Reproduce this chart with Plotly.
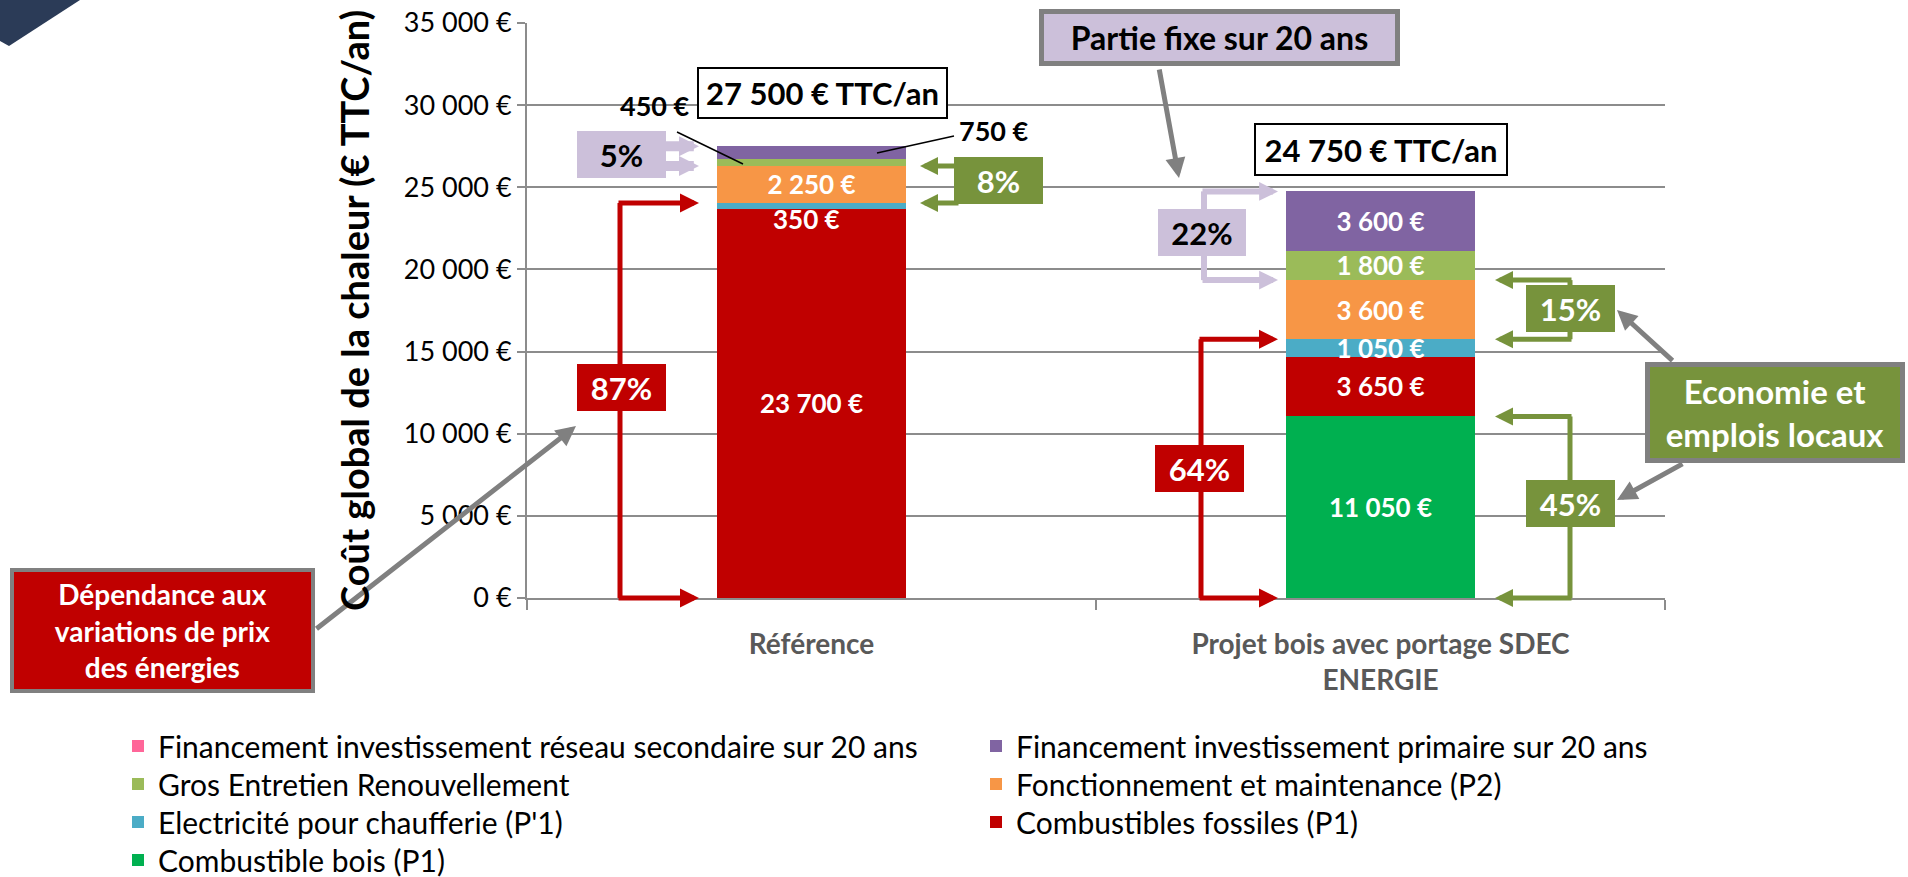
import plotly.graph_objects as go

# ---------------- data ----------------
categories = ["Référence", "Projet bois avec portage SDEC<br>ENERGIE"]

# stacking order bottom -> top
series_names = [
    "Combustible bois (P1)",
    "Combustibles fossiles (P1)",
    "Electricité pour chaufferie (P'1)",
    "Fonctionnement et maintenance (P2)",
    "Gros Entretien Renouvellement",
    "Financement investissement primaire sur 20 ans",
    "Financement investissement réseau secondaire sur 20 ans",
]
bois = [0, 11050]
fossiles = [23700, 3650]
electricite = [350, 1050]
fonctionnement = [2250, 3600]
gros_entretien = [450, 1800]
fin_primaire = [750, 3600]
fin_secondaire = [0, 0]
series_values = [bois, fossiles, electricite, fonctionnement, gros_entretien, fin_primaire, fin_secondaire]
series_colors = ["#00B050", "#C00000", "#4BACC6", "#F79646", "#9BBB59", "#8064A2", "#FF6699"]

y_ticks = [0, 5000, 10000, 15000, 20000, 25000, 30000, 35000]
pct_ref = ["5%", "8%", "87%"]            # fixe, P2, énergie fossile
pct_proj = ["22%", "15%", "45%", "64%"]  # fixe, P2, bois, énergie
y_title = "Coût global de la chaleur (€ TTC/an)"

FONT = "Lato"
W_FIG, H_FIG = 1908, 877
L, R, T, B = 527, 1665, 23, 598
YMAX = 35000


def fmt(v):
    return f"{v:,.0f}".replace(",", " ") + " €"


def px2x(px):
    return (px - L) / (R - L)


def py2y(py):
    return (B - py) * YMAX / (B - T)


def py2paper(py):
    return (B - py) / (B - T)


fig = go.Figure()

inside_label = {
    0: [False, True],
    1: [True, True],
    2: [False, True],
    3: [True, True],
    4: [False, True],
    5: [False, True],
    6: [False, False],
}
legend_pos = {6: (0, 0), 5: (1, 0), 4: (0, 1), 3: (1, 1), 2: (0, 2), 1: (1, 2), 0: (0, 3)}
col_x = [118, 976]
row_y = [746, 784, 822, 860]

legend_layouts = {}
for i, (name, vals, col) in enumerate(zip(series_names, series_values, series_colors)):
    lg = "legend" if i == 0 else f"legend{i+1}"
    texts = [fmt(v) if inside_label[i][k] else "" for k, v in enumerate(vals)]
    fig.add_trace(go.Bar(
        x=categories, y=vals, name=name, marker=dict(color=col, line=dict(width=0)),
        text=texts, textposition="inside", insidetextanchor="middle",
        textangle=0, constraintext="none",
        textfont=dict(family=FONT, size=26, color="white", weight="bold"),
        legend=lg, showlegend=True, hoverinfo="skip",
    ))
    c, r = legend_pos[i]
    legend_layouts[lg] = dict(
        xref="container", yref="container",
        x=col_x[c] / W_FIG, y=1 - row_y[r] / H_FIG, xanchor="left", yanchor="middle",
        orientation="v", bgcolor="rgba(0,0,0,0)", borderwidth=0,
        font=dict(family=FONT, size=30, color="#000000"),
        itemclick=False, itemdoubleclick=False,
    )

annotations = []
shapes = []


def label(text, cx, cy, color, size, angle=0):
    annotations.append(dict(
        xref="paper", yref="paper", x=px2x(cx), y=py2paper(cy), xanchor="center", yanchor="middle",
        text=text, showarrow=False, textangle=angle,
        font=dict(family=FONT, size=size, color=color, weight="bold")))


def box(text, x0, y0, x1, y1, bg, fg, size, bordercolor=None, bw=0):
    w = x1 - x0
    h = y1 - y0
    annotations.append(dict(
        xref="paper", yref="paper", x=px2x((x0 + x1) / 2), y=py2paper((y0 + y1) / 2),
        xanchor="center", yanchor="middle", showarrow=False,
        text=text, font=dict(family=FONT, size=size, color=fg, weight="bold"),
        bgcolor=bg, bordercolor=bordercolor if bordercolor else bg, borderwidth=bw,
        borderpad=0, width=w - 2 * bw, height=h - 2 * bw, align="center", valign="middle",
    ))


def arrow(tip_px, tip_y, tail_dx, tail_dy, color, width, size):
    annotations.append(dict(
        xref="paper", yref="y", x=px2x(tip_px), y=tip_y, axref="pixel", ayref="pixel",
        ax=tail_dx, ay=tail_dy, text="", showarrow=True, arrowhead=2,
        arrowcolor=color, arrowwidth=width, arrowsize=size, standoff=0,
    ))


def vline(px, y0, y1, color, width):
    shapes.append(dict(type="line", xref="paper", yref="y", x0=px2x(px), x1=px2x(px),
                       y0=y0, y1=y1, line=dict(color=color, width=width), layer="above"))


def seg(px0, py0, px1, py1, color, width):
    shapes.append(dict(type="line", xref="paper", yref="paper", x0=px2x(px0), x1=px2x(px1),
                       y0=py2paper(py0), y1=py2paper(py1), line=dict(color=color, width=width),
                       layer="above"))


RED, GREEN, LILAC, GREY = "#C00000", "#77933C", "#CCC0DA", "#808080"

ref_tot = sum(v[0] for v in series_values)
proj_tot = sum(v[1] for v in series_values)
ref_energy = fossiles[0] + electricite[0]
ref_p2_top = ref_energy + fonctionnement[0]
proj_energy = bois[1] + fossiles[1] + electricite[1]
proj_p2_top = proj_energy + fonctionnement[1]

# ---- Référence: brackets ----
vline(620, 0, ref_energy, RED, 5)
arrow(699, ref_energy, -82, 0, RED, 5, 0.76)
arrow(699, 0, -82, 0, RED, 5, 0.76)
arrow(699, ref_tot, -36, 0, LILAC, 10, 0.4)
arrow(699, ref_p2_top, -36, 0, LILAC, 10, 0.4)
arrow(920, ref_p2_top, 40, 0, GREEN, 5, 0.72)
arrow(920, ref_energy, 40, 0, GREEN, 5, 0.72)

# ---- Projet: brackets ----
vline(1201, 0, proj_energy, RED, 5)
arrow(1278, proj_energy, -80, 0, RED, 5, 0.76)
arrow(1278, 0, -80, 0, RED, 5, 0.76)
vline(1204, proj_p2_top, proj_tot, LILAC, 6)
arrow(1278, proj_tot, -77, 0, LILAC, 6, 0.63)
arrow(1278, proj_p2_top, -77, 0, LILAC, 6, 0.63)
vline(1570, proj_energy, proj_p2_top, GREEN, 5)
arrow(1495, proj_p2_top, 78, 0, GREEN, 5, 0.72)
arrow(1495, proj_energy, 78, 0, GREEN, 5, 0.72)
vline(1570, 0, bois[1], GREEN, 5)
arrow(1495, bois[1], 78, 0, GREEN, 5, 0.72)
arrow(1495, 0, 78, 0, GREEN, 5, 0.72)

# ---- grey callout arrows ----
arrow(1179, py2y(178), -20, -110, GREY, 5, 0.8)
arrow(576, py2y(426), -261, 204, GREY, 5, 0.8)
arrow(1617, py2y(310), 57, 52, GREY, 5, 0.8)
arrow(1617, py2y(500), 67, -37, GREY, 5, 0.8)

# ---- leader lines for small segment labels ----
seg(677, 132, 743, 164, "#000000", 1.5)
seg(954, 136, 877, 153, "#000000", 1.5)

# ---- labels ----
label(fmt(gros_entretien[0]), 655, 105, "#000000", 27)
label(fmt(fin_primaire[0]), 994, 131, "#000000", 27)
label(fmt(electricite[0]), 806, 219, "#FFFFFF", 26)
label(y_title, 354, 311, "#000000", 38, angle=-90)

# ---- boxes ----
box(fmt(ref_tot) + " TTC/an", 697, 67, 948, 119, "#FFFFFF", "#000000", 31, "#000000", 2)
box(fmt(proj_tot) + " TTC/an", 1254, 123, 1508, 176, "#FFFFFF", "#000000", 31, "#000000", 2)
box("Partie fixe sur 20 ans", 1039, 9, 1400, 66, LILAC, "#000000", 32, GREY, 5)
box(pct_ref[0], 577, 131, 666, 178, LILAC, "#000000", 31)
box(pct_ref[1], 954, 157, 1043, 204, GREEN, "#FFFFFF", 31)
box(pct_ref[2], 577, 364, 666, 411, RED, "#FFFFFF", 31)
box(pct_proj[0], 1158, 209, 1246, 256, LILAC, "#000000", 31)
box(pct_proj[1], 1526, 285, 1615, 332, GREEN, "#FFFFFF", 31)
box(pct_proj[2], 1526, 480, 1615, 527, GREEN, "#FFFFFF", 31)
box(pct_proj[3], 1155, 445, 1244, 492, RED, "#FFFFFF", 31)
box("Economie et<br>emplois locaux", 1645, 362, 1905, 463, GREEN, "#FFFFFF", 33, GREY, 5)
box("Dépendance aux<br>variations de prix<br>des énergies", 10, 568, 315, 693, RED, "#FFFFFF", 28, GREY, 4)

# top-left corner decoration (slide background fragment)
shapes.append(dict(type="path", xref="paper", yref="paper",
                   path=f"M{px2x(0)},{py2paper(0)} L{px2x(80)},{py2paper(0)} L{px2x(9)},{py2paper(46)} L{px2x(0)},{py2paper(41)} Z",
                   fillcolor="#2B3B57", line=dict(width=0), layer="above"))

fig.update_layout(
    width=W_FIG, height=H_FIG, autosize=False,
    margin=dict(l=L, r=W_FIG - R, t=T, b=H_FIG - B, pad=0, autoexpand=False),
    barmode="stack", bargap=0.668,
    plot_bgcolor="#FFFFFF", paper_bgcolor="#FFFFFF",
    font=dict(family=FONT, color="#000000"),
    annotations=annotations, shapes=shapes,
    **legend_layouts,
)
fig.update_yaxes(
    range=[0, YMAX], tickmode="array", tickvals=y_ticks, ticktext=[fmt(v) for v in y_ticks],
    showgrid=True, gridcolor="#8C8C8C", gridwidth=2, zeroline=False,
    showline=True, linecolor="#8C8C8C", linewidth=2, automargin=False,
    ticks="outside", ticklen=8, tickwidth=2, tickcolor="#8C8C8C",
    tickfont=dict(family=FONT, size=27, color="#000000"),
)
fig.update_xaxes(
    type="category", showline=True, linecolor="#8C8C8C", linewidth=2, automargin=False,
    ticks="outside", ticklen=10, tickwidth=2, tickcolor="#8C8C8C", tickson="boundaries",
    tickfont=dict(family=FONT, size=28, color="#595959", weight="bold"),
    ticklabelstandoff=20,
)

fig.write_html(
    "out.html",
    config={"displayModeBar": False},
    post_script="document.body.style.margin='0px';document.body.style.padding='0px';"
                "document.documentElement.style.overflow='hidden';",
)
